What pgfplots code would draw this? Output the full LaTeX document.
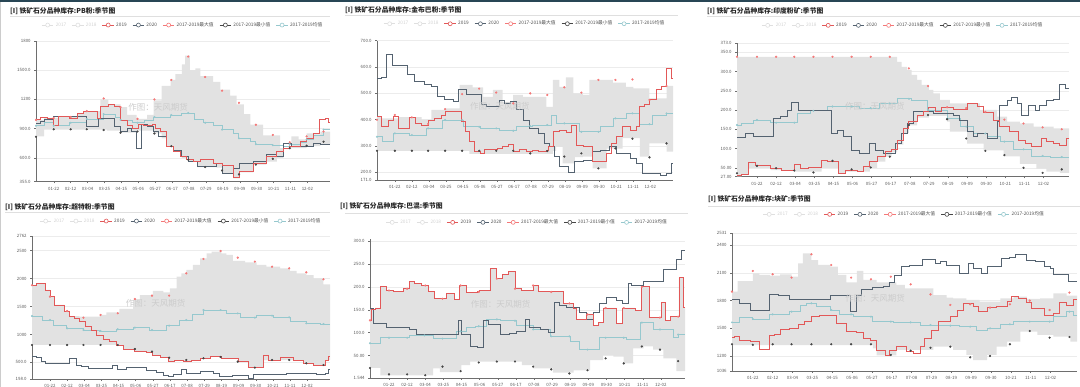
\documentclass[border=0pt]{standalone}
\usepackage{fontspec}
\setmainfont{Noto Sans CJK SC}
\usepackage{pgfplots}
\pgfplotsset{compat=1.18}
\usepgfplotslibrary{fillbetween}
\definecolor{red19}{RGB}{226,88,88}
\definecolor{dark20}{RGB}{84,98,112}
\definecolor{maxred}{RGB}{244,120,120}
\definecolor{mindark}{RGB}{70,70,70}
\definecolor{meanteal}{RGB}{150,200,206}
\definecolor{bandgray}{RGB}{226,226,226}
\definecolor{axgray}{RGB}{110,110,110}
\definecolor{gridgray}{RGB}{236,236,236}
\definecolor{lblgray}{RGB}{90,90,90}
\definecolor{topbar}{RGB}{40,70,85}
\definecolor{leggray}{RGB}{80,80,80}
\pgfplotsset{
  panel/.style={
    scale only axis, xmin=0, xmax=365,
    axis x line*=bottom, axis y line*=left,
    xtick={22,43,...,336},
    xticklabels={01-22,02-12,03-04,03-25,04-15,05-06,05-27,06-17,07-08,07-29,08-19,09-09,09-30,10-21,11-11,12-02},
    tick align=outside, major tick length=1.8pt,
    tick style={draw=axgray, line width=0.4pt},
    axis line style={draw=axgray, line width=0.5pt},
    ymajorgrids, grid style={draw=gridgray, line width=0.4pt},
    tick label style={font=\fontsize{4.4}{5}\selectfont, text=lblgray},
    /pgf/number format/assume math mode=true,
    legend style={at={(0.5,1)}, anchor=south, draw=none, fill=none,
      font=\fontsize{4.75}{5.5}\selectfont, text=leggray, legend columns=-1,
      /tikz/every even column/.append style={column sep=3.6pt}, inner sep=0pt},
    legend image code/.code={\draw[##1, line width=0.6pt] (0pt,0pt) -- (11.5pt,0pt);
      \draw[##1, fill=white, line width=0.6pt] (5.75pt,0pt) circle (2pt);},
  },
  l19/.style={const plot, red19, line width=0.9pt, forget plot},
  l20/.style={const plot, dark20, line width=0.9pt, forget plot},
  lmean/.style={const plot, meanteal, line width=0.7pt, forget plot},
  dmax/.style={only marks, mark=*, mark size=0.9pt, maxred, forget plot},
  dmin/.style={only marks, mark=*, mark size=0.9pt, mindark, forget plot},
  dmean/.style={only marks, mark=*, mark size=0.8pt, meanteal, forget plot},
}
\newcommand{\legendset}{%
  \addlegendimage{color=gray!25}\addlegendentry[text=gray!35]{2017}
  \addlegendimage{color=gray!25}\addlegendentry[text=gray!35]{2018}
  \addlegendimage{color=red19}\addlegendentry{2019}
  \addlegendimage{color=dark20}\addlegendentry{2020}
  \addlegendimage{color=maxred}\addlegendentry{2017-2019最大值}
  \addlegendimage{color=mindark}\addlegendentry{2017-2019最小值}
  \addlegendimage{color=meanteal}\addlegendentry{2017-2019均值}
}
\newcommand{\wm}{\node[text=gray!40, font=\fontsize{8.5}{9}\selectfont] at (rel axis cs:0.415,0.53) {作图：天风期货};}
\newcommand{\ttl}[3]{\node[anchor=west, font=\fontsize{6.8}{8}\selectfont\bfseries, text=black!85, inner sep=0pt] at (#1pt,#2pt) {#3};}
\begin{document}
\begin{tikzpicture}
\fill[topbar] (0,385pt) rectangle (1080pt,387pt);
\draw[gray!40, line width=1pt] (0.5pt,0) -- (0.5pt,385pt);
% titles
\ttl{10}{376}{[I] 铁矿石分品种库存:PB粉:季节图}
\ttl{345}{377}{[I] 铁矿石分品种库存:金布巴粉:季节图}
\ttl{707}{376}{[I] 铁矿石分品种库存:印度粉矿:季节图}
\ttl{5}{180}{[I] 铁矿石分品种库存:超特粉:季节图}
\ttl{340}{181}{[I] 铁矿石分品种库存:巴混:季节图}
\ttl{708}{188}{[I] 铁矿石分品种库存:块矿:季节图}
\draw[gray!25, line width=1pt] (10pt,370pt) -- (330pt,370pt);
\draw[gray!25, line width=1pt] (345pt,371pt) -- (678pt,371pt);
\draw[gray!25, line width=1pt] (707pt,370pt) -- (1080pt,370pt);
\draw[gray!25, line width=1pt] (5pt,174pt) -- (330pt,174pt);
\draw[gray!25, line width=1pt] (345pt,173pt) -- (688pt,173pt);
\draw[gray!25, line width=1pt] (708pt,180pt) -- (1080pt,180pt);

% ---------- Panel 1: PB ----------
\begin{axis}[panel, at={(36pt,205.3pt)}, anchor=south west, width=294pt, height=140.7pt,
  ymin=355, ymax=1800, ytick={355,600,900,1200,1500,1800},
  yticklabels={355.0,600.0,900.0,1200,1500.0,1800}, legend style={yshift=11pt}]
\legendset
\addplot[const plot, draw=none, name path=U1, forget plot] coordinates {(0,990)(10,1010)(28,1020)(51,1060)(59,1080)(80,1200)(90,1150)(105,1120)(113,1040)(125,1000)(138,1040)(146,1190)(156,1340)(167,1400)(173,1460)(181,1560)(185,1650)(191,1500)(198,1520)(204,1440)(220,1380)(229,1300)(241,1240)(249,1150)(258,1050)(266,940)(282,830)(303,700)(317,820)(326,790)(336,850)(344,840)(353,870)(365,870)};
\addplot[const plot, draw=none, name path=L1, forget plot] coordinates {(0,820)(10,890)(88,880)(105,860)(125,880)(146,850)(156,800)(162,715)(171,660)(181,600)(189,560)(200,505)(224,500)(231,440)(245,390)(253,450)(270,530)(286,560)(299,600)(307,690)(317,700)(336,720)(353,740)(365,760)};
\addplot[fill=bandgray, draw=none, forget plot] fill between[of=U1 and L1];
\addplot[lmean] coordinates {(0,930)(10,960)(22,930)(41,960)(63,1000)(84,1050)(98,1020)(105,990)(119,960)(134,990)(146,1020)(167,1040)(181,1060)(196,1000)(208,960)(220,930)(231,890)(245,850)(251,800)(266,770)(272,740)(294,730)(307,720)(315,740)(328,760)(336,790)(344,830)(357,890)(365,890)};
\addplot[dmean] coordinates {(0,930)(22,930)(43,960)(63,1000)(84,1050)(105,990)(126,960)(147,1020)(168,1040)(189,1060)(210,960)(231,890)(252,800)(273,740)(294,730)(315,740)(336,790)(357,890)};
\addplot[dmin] coordinates {(0,817)(22,893)(43,893)(63,893)(84,886)(105,858)(126,870)(147,850)(168,720)(189,580)(210,505)(231,470)(252,430)(273,530)(294,590)(315,700)(336,725)(357,766)};
\addplot[dmax] coordinates {(0,990)(22,1010)(43,1020)(63,1080)(84,1210)(105,1120)(126,1000)(147,1200)(168,1400)(189,1640)(210,1430)(231,1290)(252,1165)(273,940)(294,835)(315,760)(336,820)(357,870)};
\addplot[l20] coordinates {(0,955)(5,970)(10,990)(22,1020)(63,925)(78,1005)(98,920)(105,870)(113,905)(119,870)(125,700)(131,945)(138,920)(146,870)(152,815)(162,715)(171,680)(181,610)(189,560)(200,510)(224,545)(231,440)(245,490)(253,545)(270,560)(286,630)(299,610)(307,750)(317,715)(344,750)(353,742)(365,742)};
\addplot[l19] coordinates {(0,990)(5,1015)(14,1000)(22,930)(28,1020)(41,1005)(51,1055)(59,1080)(76,1005)(80,1125)(90,1145)(98,1125)(105,980)(113,935)(120,905)(127,945)(134,935)(144,940)(148,905)(154,870)(162,715)(171,665)(179,610)(187,580)(196,560)(204,580)(220,545)(231,525)(245,395)(253,460)(270,545)(286,610)(299,665)(307,700)(315,715)(328,765)(336,800)(344,850)(352,995)(359,1005)(363,960)(365,960)};
\wm
\end{axis}

% ---------- Panel 2: 金布巴 ----------
\begin{axis}[panel, at={(377pt,207pt)}, anchor=south west, width=296pt, height=139.3pt,
  ymin=171, ymax=700, ytick={171,200,300,400,500,600,700},
  yticklabels={171.0,200.0,300.0,400.0,500.0,600.0,700.0}, legend style={yshift=12pt}]
\legendset
\addplot[const plot, draw=none, name path=U2, forget plot] coordinates {(0,414)(5,405)(27,410)(55,400)(67,437)(83,443)(102,532)(118,523)(131,487)(143,513)(155,468)(168,494)(180,487)(209,449)(217,551)(225,525)(233,561)(242,500)(254,494)(262,551)(291,541)(307,525)(316,519)(328,519)(336,481)(357,528)(365,528)};
\addplot[const plot, draw=none, name path=L2, forget plot] coordinates {(0,282)(114,270)(217,282)(221,297)(229,234)(244,258)(254,260)(266,215)(283,290)(303,330)(324,260)(336,310)(357,279)(365,279)};
\addplot[fill=bandgray, draw=none, forget plot] fill between[of=U2 and L2];
\addplot[lmean] coordinates {(0,335)(7,317)(20,348)(40,342)(61,367)(81,399)(106,373)(127,367)(151,358)(172,376)(192,380)(215,418)(221,386)(250,354)(275,373)(291,405)(307,424)(324,383)(340,418)(357,424)(365,424)};
\addplot[dmean] coordinates {(0,335)(22,348)(43,342)(63,367)(84,399)(105,399)(126,373)(147,367)(168,358)(189,376)(210,380)(231,386)(252,354)(273,354)(294,405)(315,424)(336,383)(357,424)};
\addplot[dmin] coordinates {(0,282)(22,282)(43,282)(63,282)(84,282)(105,282)(126,282)(147,282)(168,282)(189,272)(210,281)(231,260)(252,272)(273,215)(294,291)(315,328)(336,257)(357,310)};
\addplot[dmax] coordinates {(0,400)(22,418)(43,409)(63,384)(84,440)(105,497)(126,518)(147,503)(168,462)(189,500)(210,494)(231,523)(252,503)(273,551)(294,551)(315,553)(336,475)(357,528)};
\addplot[l20] coordinates {(0,557)(5,561)(12,646)(19,605)(38,570)(46,544)(59,532)(67,528)(75,487)(83,475)(94,468)(100,513)(110,497)(120,494)(129,456)(135,452)(151,472)(157,462)(164,468)(172,437)(180,399)(188,367)(199,348)(207,310)(213,297)(219,260)(225,222)(236,199)(244,241)(254,247)(266,279)(275,282)(287,297)(295,272)(312,253)(320,234)(327,196)(349,190)(357,196)(363,234)(365,234)};
\addplot[l19] coordinates {(0,414)(5,373)(14,399)(20,414)(27,367)(40,409)(48,386)(55,380)(63,399)(71,405)(79,418)(85,430)(94,433)(104,392)(109,354)(114,317)(120,279)(127,270)(133,287)(149,291)(155,297)(162,306)(168,279)(176,287)(184,279)(192,282)(199,279)(209,282)(211,297)(217,354)(225,361)(233,351)(240,380)(246,304)(254,297)(266,241)(283,272)(289,308)(295,336)(303,373)(312,361)(320,373)(324,452)(330,456)(336,475)(344,513)(351,528)(357,595)(363,557)(365,557)};
\wm
\end{axis}

% ---------- Panel 3: 印度粉矿 ----------
\begin{axis}[panel, at={(737pt,210.3pt)}, anchor=south west, width=332pt, height=133.4pt,
  ymin=27, ymax=373, ytick={27,50,100,150,200,250,300,350,373},
  yticklabels={27.00,50.00,100.0,150.0,200.0,250.0,300.0,350.0,373.0}, legend style={yshift=13pt}]
\legendset
\addplot[const plot, draw=none, name path=U3, forget plot] coordinates {(0,338)(176,325)(181,312)(187,304)(192,291)(198,278)(203,265)(211,252)(216,243)(223,226)(234,217)(253,217)(267,200)(286,183)(297,170)(311,165)(326,157)(348,152)(365,152)};
\addplot[const plot, draw=none, name path=L3, forget plot] coordinates {(0,28)(5,34)(13,50)(37,44)(63,40)(93,50)(112,36)(119,40)(146,50)(154,66)(163,79)(170,90)(176,110)(183,140)(189,160)(198,180)(211,185)(231,170)(234,144)(253,113)(271,95)(293,80)(311,60)(329,48)(340,40)(355,37)(365,37)};
\addplot[fill=bandgray, draw=none, forget plot] fill between[of=U3 and L3];
\addplot[lmean] coordinates {(0,161)(5,165)(18,174)(37,167)(66,192)(81,198)(99,209)(135,205)(157,217)(176,229)(192,226)(209,200)(231,178)(245,157)(260,139)(275,131)(289,118)(304,98)(324,81)(344,78)(365,78)};
\addplot[dmean] coordinates {(0,161)(22,174)(43,167)(63,167)(84,198)(105,209)(126,209)(147,205)(168,217)(189,229)(210,200)(231,178)(252,157)(273,139)(294,118)(315,98)(336,81)(357,78)};
\addplot[dmin] coordinates {(0,36)(22,55)(43,49)(63,43)(84,38)(105,68)(126,46)(147,51)(168,79)(189,161)(210,187)(231,176)(252,126)(273,94)(294,83)(315,50)(336,37)(357,46)};
\addplot[dmax] coordinates {(0,338)(22,338)(43,338)(63,338)(84,338)(105,338)(126,338)(147,338)(168,338)(189,308)(210,262)(231,207)(252,205)(273,195)(294,175)(315,165)(336,155)(357,150)};
\addplot[l20] coordinates {(0,129)(9,138)(18,131)(40,178)(48,183)(55,198)(60,219)(68,200)(104,138)(110,148)(117,131)(126,96)(135,88)(146,113)(152,96)(161,88)(174,113)(181,139)(187,165)(194,196)(216,192)(238,187)(245,174)(253,144)(260,131)(264,139)(275,126)(286,170)(289,213)(297,226)(302,233)(308,217)(313,187)(320,211)(328,200)(333,213)(340,224)(348,227)(355,265)(361,256)(365,256)};
\addplot[l19] coordinates {(0,30)(5,34)(13,63)(20,55)(37,49)(49,44)(63,59)(70,49)(78,51)(93,68)(99,66)(112,36)(119,43)(132,40)(139,53)(146,66)(154,79)(163,92)(170,98)(176,122)(183,152)(189,170)(198,187)(205,196)(211,207)(218,196)(225,207)(238,202)(253,216)(264,209)(271,193)(282,174)(289,157)(300,144)(309,122)(317,112)(324,105)(335,126)(340,118)(348,112)(355,109)(362,126)(365,126)};
\wm
\end{axis}

% ---------- Panel 4: 超特粉 ----------
\begin{axis}[panel, at={(32pt,7.7pt)}, anchor=south west, width=298pt, height=143.3pt,
  ymin=198, ymax=2762, ytick={198,500,1000,1500,2000,2500,2762},
  yticklabels={198.0,500.0,1000,1500,2000,2500,2762}, legend style={yshift=10pt}]
\legendset
\addplot[const plot, draw=none, name path=U4, forget plot] coordinates {(0,1880)(5,1915)(16,1796)(22,1677)(28,1528)(40,1408)(46,1330)(58,1319)(83,1349)(91,1397)(107,1456)(124,1617)(132,1706)(148,1778)(161,1754)(169,1826)(177,2035)(183,2094)(189,2154)(197,2243)(206,2362)(214,2452)(220,2482)(232,2452)(238,2422)(246,2315)(261,2291)(275,2243)(287,2213)(304,2184)(316,2136)(324,2094)(336,2064)(345,2005)(357,1897)(365,1897)};
\addplot[const plot, draw=none, name path=L4, forget plot] coordinates {(0,812)(103,812)(112,740)(126,700)(140,680)(148,630)(157,590)(167,510)(175,530)(185,510)(195,540)(206,570)(218,600)(232,570)(253,510)(265,405)(283,540)(304,540)(320,540)(332,480)(345,450)(359,540)(365,540)};
\addplot[fill=bandgray, draw=none, forget plot] fill between[of=U4 and L4];
\addplot[lmean] coordinates {(0,1331)(13,1259)(26,1170)(42,1110)(63,1080)(83,1063)(103,1093)(124,1122)(144,1080)(165,1158)(181,1259)(197,1361)(210,1438)(238,1378)(255,1301)(275,1337)(295,1307)(316,1241)(336,1200)(353,1188)(365,1188)};
\addplot[dmean] coordinates {(0,1331)(22,1259)(43,1110)(63,1080)(84,1063)(105,1093)(126,1122)(147,1080)(168,1158)(189,1259)(210,1438)(231,1438)(252,1378)(273,1301)(294,1337)(315,1307)(336,1200)(357,1188)};
\addplot[dmin] coordinates {(0,812)(22,812)(43,812)(63,812)(84,812)(105,812)(126,740)(147,693)(168,585)(189,544)(210,574)(231,597)(252,514)(273,407)(294,544)(315,544)(336,484)(357,454)};
\addplot[dmax] coordinates {(0,1880)(22,1677)(43,1420)(63,1301)(84,1349)(105,1379)(126,1635)(147,1695)(168,1695)(189,2094)(210,2351)(231,2494)(252,2374)(273,2303)(294,2213)(315,2184)(336,2112)(357,1987)};
\addplot[l20] coordinates {(0,615)(5,585)(11,514)(16,484)(46,574)(54,454)(60,424)(69,395)(99,454)(105,383)(116,407)(140,365)(152,323)(161,264)(167,246)(173,287)(183,383)(189,305)(206,335)(222,305)(230,246)(246,264)(265,216)(271,276)(295,287)(312,305)(349,287)(359,305)(363,383)(365,383)};
\addplot[l19] coordinates {(0,1880)(5,1915)(16,1796)(22,1677)(28,1528)(40,1408)(46,1319)(52,1289)(58,1241)(65,1140)(73,1080)(79,991)(87,919)(95,884)(103,812)(112,740)(126,705)(140,681)(148,633)(157,592)(167,514)(175,532)(185,514)(195,544)(206,574)(218,603)(232,574)(253,514)(265,407)(283,633)(289,544)(304,585)(320,544)(332,484)(345,454)(359,544)(363,603)(365,603)};
\wm
\end{axis}

% ---------- Panel 5: 巴混 ----------
\begin{axis}[panel, at={(370pt,9.2pt)}, anchor=south west, width=315pt, height=139pt,
  ymin=1.544, ymax=305, ytick={1.544,50,100,150,200,250,300},
  yticklabels={1.544,50.00,100.0,150.0,200.0,250.0,300.0}, legend style={yshift=11.5pt}]
\legendset
\addplot[const plot, draw=none, name path=U5, forget plot] coordinates {(0,151)(6,154)(12,200)(19,192)(27,191)(39,196)(46,211)(52,207)(60,203)(68,191)(75,174)(89,185)(98,172)(104,203)(112,187)(124,189)(127,192)(139,240)(147,218)(153,227)(160,233)(168,196)(176,192)(189,203)(195,191)(209,189)(224,164)(236,154)(239,129)(251,140)(259,116)(265,122)(270,154)(286,120)(292,154)(307,149)(315,200)(324,133)(338,166)(342,126)(348,135)(358,220)(363,155)(365,155)};
\addplot[const plot, draw=none, name path=L5, forget plot] coordinates {(0,23)(12,7)(66,7)(73,22)(81,14)(104,14)(106,29)(116,37)(170,37)(176,29)(189,22)(209,22)(212,13)(228,13)(236,18)(255,40)(270,51)(282,48)(294,33)(305,66)(317,70)(328,63)(340,44)(355,16)(365,16)};
\addplot[fill=bandgray, draw=none, forget plot] fill between[of=U5 and L5];
\addplot[lmean] coordinates {(0,77)(12,89)(46,94)(73,87)(100,103)(112,111)(122,114)(135,129)(151,126)(170,116)(189,107)(209,92)(232,81)(243,63)(266,89)(297,85)(313,122)(328,107)(351,89)(357,96)(365,96)};
\addplot[dmean] coordinates {(0,77)(22,89)(43,89)(63,94)(84,87)(105,103)(126,114)(147,129)(168,126)(189,107)(210,92)(231,92)(252,63)(273,89)(294,89)(315,122)(336,107)(357,96)};
\addplot[dmin] coordinates {(0,23)(22,9)(43,9)(64,7)(84,26)(105,16)(126,35)(147,37)(168,37)(189,26)(210,20)(231,11)(252,18)(273,44)(294,33)(315,70)(336,63)(357,38)};
\addplot[dmax] coordinates {(0,127)(22,192)(43,196)(64,203)(84,174)(105,203)(126,189)(147,218)(168,196)(189,203)(210,189)(231,164)(252,140)(273,154)(294,154)(315,200)(336,133)(357,135)};
\addplot[l20] coordinates {(0,153)(4,120)(19,111)(46,107)(54,96)(102,126)(106,96)(116,70)(124,68)(131,127)(137,118)(151,96)(162,98)(170,102)(180,129)(185,112)(197,107)(207,100)(214,166)(220,159)(228,155)(243,144)(251,129)(259,144)(266,163)(274,177)(286,170)(292,164)(299,207)(303,203)(317,212)(340,237)(355,259)(361,280)(365,280)};
\addplot[l19] coordinates {(0,127)(2,151)(6,154)(12,200)(19,192)(27,191)(39,196)(46,211)(52,207)(60,203)(68,191)(75,174)(89,185)(98,172)(104,203)(112,187)(124,189)(127,192)(139,240)(147,218)(153,227)(160,233)(168,196)(176,192)(189,203)(195,191)(209,189)(224,164)(236,154)(239,129)(251,140)(259,116)(265,122)(270,154)(286,120)(292,154)(307,149)(315,200)(324,133)(338,166)(342,126)(348,135)(358,220)(363,155)(365,155)};
\wm
\end{axis}

% ---------- Panel 6: 块矿 ----------
\begin{axis}[panel, at={(732pt,16pt)}, anchor=south west, width=345pt, height=137.7pt,
  ymin=1036, ymax=2531, ytick={1036,1200,1500,1800,2100,2400,2531},
  yticklabels={1036,1200,1500,1800,2100,2400,2531}, legend style={yshift=14pt}]
\legendset
\addplot[const plot, draw=none, name path=U6, forget plot] coordinates {(0,1898)(6,2013)(22,2097)(29,2079)(40,2071)(51,2086)(63,2060)(70,2205)(75,2314)(84,2241)(91,2187)(104,2169)(112,2079)(121,1999)(132,2122)(139,2024)(153,1999)(174,1970)(183,1934)(213,1861)(227,1832)(234,1825)(248,1807)(262,1789)(284,1825)(298,1843)(312,1818)(326,1825)(340,1879)(354,1854)(365,1854)};
\addplot[const plot, draw=none, name path=L6, forget plot] coordinates {(0,1318)(146,1318)(149,1282)(153,1205)(174,1264)(213,1300)(234,1264)(248,1210)(255,1155)(270,1210)(280,1300)(291,1355)(305,1463)(323,1427)(340,1409)(358,1355)(365,1355)};
\addplot[fill=bandgray, draw=none, forget plot] fill between[of=U6 and L6];
\addplot[lmean] coordinates {(0,1564)(8,1615)(22,1601)(40,1651)(61,1680)(72,1753)(79,1771)(89,1735)(104,1698)(114,1651)(128,1626)(149,1572)(171,1564)(199,1535)(220,1528)(241,1517)(259,1481)(270,1499)(284,1543)(298,1579)(315,1572)(340,1626)(354,1680)(361,1637)(365,1637)};
\addplot[dmean] coordinates {(0,1564)(22,1601)(43,1651)(63,1680)(84,1771)(105,1698)(126,1651)(147,1626)(168,1572)(189,1564)(210,1535)(231,1528)(252,1517)(273,1499)(294,1543)(315,1572)(336,1572)(357,1680)};
\addplot[dmin] coordinates {(0,1326)(22,1320)(43,1326)(63,1326)(84,1326)(105,1326)(126,1326)(147,1326)(168,1210)(189,1257)(210,1289)(231,1300)(252,1184)(273,1199)(294,1326)(315,1470)(336,1398)(357,1405)};
\addplot[dmax] coordinates {(0,1898)(22,2122)(43,2086)(63,2050)(84,2303)(105,2187)(126,2050)(147,2031)(168,2060)(189,1977)(210,1868)(231,1753)(252,1760)(273,1724)(294,1760)(315,1800)(336,1698)(357,1887)};
\addplot[l20] coordinates {(0,1818)(8,1771)(20,1698)(40,1868)(49,1854)(61,1818)(104,1861)(125,1687)(132,1861)(137,1916)(149,1941)(160,1952)(167,1999)(172,2071)(179,2169)(188,2180)(201,2252)(215,2205)(220,2223)(227,2187)(241,2097)(250,2205)(255,2144)(264,2097)(270,2173)(285,2260)(294,2267)(300,2296)(312,2231)(321,2223)(331,2169)(337,2151)(340,2079)(356,2013)(365,2013)};
\addplot[l19] coordinates {(0,1398)(3,1409)(8,1365)(20,1355)(29,1275)(40,1427)(45,1434)(51,1492)(61,1499)(70,1543)(77,1572)(84,1626)(93,1637)(104,1644)(111,1553)(121,1470)(132,1456)(139,1391)(146,1373)(153,1264)(162,1210)(167,1264)(174,1300)(185,1246)(192,1228)(199,1300)(204,1384)(211,1481)(218,1579)(231,1626)(238,1698)(245,1771)(255,1735)(261,1680)(270,1724)(280,1735)(291,1789)(296,1843)(303,1825)(312,1782)(317,1717)(331,1644)(340,1662)(346,1782)(354,1746)(361,1818)(365,1818)};
\wm
\end{axis}
\pgfresetboundingbox
\path[use as bounding box] (0,0) rectangle (1080pt,387pt);
\end{tikzpicture}
\end{document}
